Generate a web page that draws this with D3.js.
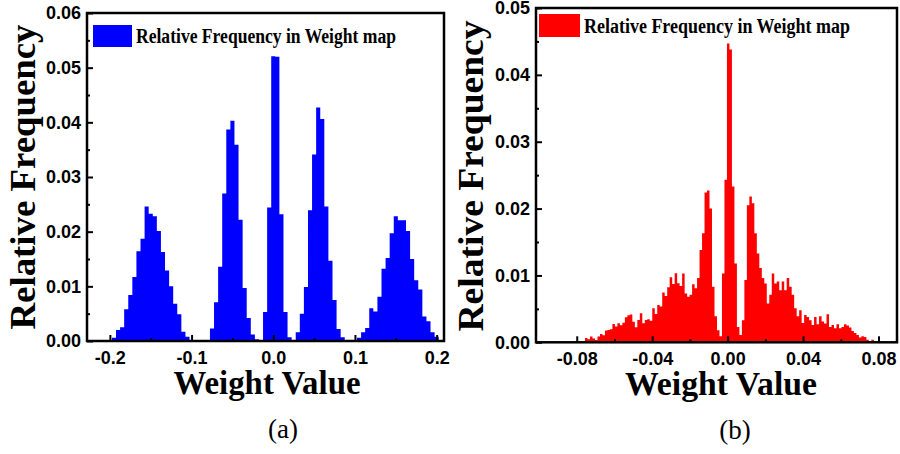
<!DOCTYPE html>
<html>
<head>
<meta charset="utf-8">
<script src="https://cdn.jsdelivr.net/npm/d3@7"></script>
<style>
body { margin: 0; background: #fff; }
</style>
</head>
<body>
<svg width="900" height="454"></svg>
<script>
"use strict";

// Data.

// (a): bins of 0.005, centred on -0.200 ... 0.200.
var LeftBinWidth = 0.005;
var LeftBinCenters = d3.range(-40, 41).map(function(i){ return i*LeftBinWidth; });
var LeftFreq = [
    0.0002, 0.0006, 0.0020, 0.0025, 0.0058, 0.0084, 0.0117, 0.0164, 0.0187, 0.0246,
    0.0233, 0.0228, 0.0201, 0.0163, 0.0129, 0.0100, 0.0068, 0.0049, 0.0017, 0.0008,
    0.0002, 0.0001, 0.0001, 0.0001, 0.0002, 0.0023, 0.0071, 0.0136, 0.0270, 0.0387,
    0.0403, 0.0359, 0.0222, 0.0097, 0.0042, 0.0012, 0.0003, 0.0000, 0.0053, 0.0244,
    0.0521, 0.0520, 0.0232, 0.0053, 0.0007, 0.0000, 0.0016, 0.0050, 0.0099, 0.0239,
    0.0341, 0.0427, 0.0406, 0.0246, 0.0147, 0.0075, 0.0022, 0.0007, 0.0002, 0.0001,
    0.0002, 0.0006, 0.0016, 0.0024, 0.0060, 0.0054, 0.0081, 0.0132, 0.0152, 0.0197,
    0.0228, 0.0221, 0.0221, 0.0201, 0.0150, 0.0111, 0.0094, 0.0045, 0.0036, 0.0016,
    0.0008
];

// (b): narrow bins starting at -0.0756.
var RightBinStart = -0.0756;
var RightBinWidth = 0.00132;
var RightFreq = [
    0.00065, 0.00045, 0.00085, 0.00055, 0.00035, 0.00085, 0.00125, 0.00105, 0.00175, 0.00185,
    0.00195, 0.00274, 0.00235, 0.00284, 0.00254, 0.00294, 0.00374, 0.00404, 0.00414, 0.00309,
    0.00225, 0.00334, 0.00434, 0.00284, 0.00334, 0.00344, 0.00324, 0.00509, 0.00424, 0.00559,
    0.00534, 0.00744, 0.00694, 0.00823, 0.00973, 0.00873, 0.01033, 0.00883, 0.00843,
    0.0103, 0.0073, 0.0068, 0.0071, 0.0087, 0.0081, 0.0096, 0.0138, 0.0163, 0.0224,
    0.0227, 0.0200, 0.0083, 0.0039, 0.0018, 0.0009, 0.0103, 0.0243, 0.0447, 0.0438,
    0.0233, 0.0118, 0.0023, 0.0011, 0.0033, 0.0093, 0.0205, 0.0218, 0.0208, 0.0163,
    0.0133, 0.0111, 0.0096, 0.0088, 0.0058, 0.0071, 0.0103, 0.0088,
    0.0091, 0.0078, 0.0091, 0.0078, 0.0096, 0.0083, 0.0071, 0.0051, 0.0039, 0.0048,
    0.0029, 0.0041, 0.0038, 0.0033, 0.0026, 0.0038, 0.0027, 0.0039, 0.0031, 0.0028,
    0.0042, 0.0023, 0.0026, 0.0021, 0.0027, 0.0021, 0.0023, 0.0027, 0.0025, 0.0022,
    0.0017, 0.0014, 0.0011, 0.0007, 0.0009, 0.0008, 0.0004, 0.0002, 0.0004, 0.0001
];

// Ticks.
var LeftXMajor = [-0.2, -0.1, 0.0, 0.1, 0.2];
var LeftXMinor = [-0.15, -0.05, 0.05, 0.15];
var LeftYMajor = [0, 0.01, 0.02, 0.03, 0.04, 0.05, 0.06];
var LeftYMinor = [0.005, 0.015, 0.025, 0.035, 0.045, 0.055];

var RightXMajor = [-0.08, -0.04, 0.0, 0.04, 0.08];
var RightXMinor = [-0.06, -0.02, 0.02, 0.06];
var RightYMajor = [0, 0.01, 0.02, 0.03, 0.04, 0.05];
var RightYMinor = [0.005, 0.015, 0.025, 0.035, 0.045];

var LegendText = "Relative Frequency in Weight map";
var XTitle = "Weight Value";
var YTitle = "Relative Frequency";

// Styles.

var svg = d3.select("svg");
var SansBold = "'Liberation Sans', Arial, sans-serif";
var Serif = "'Liberation Serif', 'Times New Roman', serif";
var FrameWidth = 2.5;

var leftBins = LeftBinCenters.map(function(c, i){
    return {x0: c - LeftBinWidth/2, x1: c + LeftBinWidth/2, v: LeftFreq[i]};
});
var rightBins = RightFreq.map(function(v, i){
    return {x0: RightBinStart + i*RightBinWidth, x1: RightBinStart + (i+1)*RightBinWidth, v: v};
});

var DrawPanel = function(p){
    var x = d3.scaleLinear().domain(p.xDomain).range([p.left, p.right]);
    var y = d3.scaleLinear().domain(p.yDomain).range([p.bottom, p.top]);
    var g = svg.append("g");

    // Bars, as one stepped area so neighbouring bins leave no seams.
    var last = p.bins[p.bins.length - 1];
    var steps = p.bins.map(function(d){ return {x: d.x0, v: d.v}; });
    steps.push({x: last.x1, v: 0});
    var area = d3.area()
        .curve(d3.curveStepAfter)
        .x(function(d){ return x(d.x); })
        .y0(y(0))
        .y1(function(d){ return y(d.v); });
    g.append("path")
        .datum(steps)
        .attr("d", area)
        .attr("fill", p.color);

    // Axes, ticks pointing inwards.
    var ax = g.append("g")
        .attr("transform", "translate(0," + p.bottom + ")")
        .call(d3.axisBottom(x).tickValues(p.xMajor).tickSize(-6).tickPadding(10)
            .tickFormat(function(d){ return d.toFixed(p.xDigits); }));
    var axm = g.append("g")
        .attr("transform", "translate(0," + p.bottom + ")")
        .call(d3.axisBottom(x).tickValues(p.xMinor).tickSize(-3).tickFormat(""));
    var ay = g.append("g")
        .attr("transform", "translate(" + p.left + ",0)")
        .call(d3.axisLeft(y).tickValues(p.yMajor).tickSize(-6).tickPadding(6)
            .tickFormat(function(d){ return d.toFixed(2); }));
    var aym = g.append("g")
        .attr("transform", "translate(" + p.left + ",0)")
        .call(d3.axisLeft(y).tickValues(p.yMinor).tickSize(-3).tickFormat(""));

    // Minor axes carry no labels.
    axm.selectAll("text").remove();
    aym.selectAll("text").remove();

    [ax, axm, ay, aym].forEach(function(a){
        a.select(".domain").remove();
        a.selectAll("line").attr("stroke", "#000").attr("stroke-width", 2);
        a.selectAll("text")
            .attr("fill", "#000")
            .attr("font-size", 18)
            .attr("font-weight", "bold")
            .attr("font-family", SansBold);
    });

    // Frame.
    g.append("rect")
        .attr("x", p.left)
        .attr("y", p.top)
        .attr("width", p.right - p.left)
        .attr("height", p.bottom - p.top)
        .attr("fill", "none")
        .attr("stroke", "#000")
        .attr("stroke-width", FrameWidth);

    // Legend.
    g.append("rect")
        .attr("x", p.legend[0]).attr("y", p.legend[1])
        .attr("width", p.legend[2]).attr("height", p.legend[3])
        .attr("fill", p.color);
    g.append("text")
        .attr("x", p.legendText[0]).attr("y", p.legendText[1])
        .attr("textLength", p.legendText[2])
        .attr("lengthAdjust", "spacingAndGlyphs")
        .attr("font-family", Serif)
        .attr("font-weight", "bold")
        .attr("font-size", 20)
        .text(LegendText);

    // Axis titles.
    g.append("text")
        .attr("x", p.xTitle[0]).attr("y", p.xTitle[1])
        .attr("text-anchor", "middle")
        .attr("textLength", p.xTitle[2])
        .attr("lengthAdjust", "spacingAndGlyphs")
        .attr("font-family", Serif)
        .attr("font-weight", "bold")
        .attr("font-size", 34)
        .text(XTitle);
    g.append("text")
        .attr("transform", "translate(" + p.yTitle[0] + "," + p.yTitle[1] + ") rotate(-90)")
        .attr("text-anchor", "middle")
        .attr("textLength", p.yTitle[2])
        .attr("lengthAdjust", "spacingAndGlyphs")
        .attr("font-family", Serif)
        .attr("font-weight", "bold")
        .attr("font-size", 35)
        .text(YTitle);

    // Caption.
    g.append("text")
        .attr("x", p.caption[0]).attr("y", p.caption[1])
        .attr("text-anchor", "middle")
        .attr("font-family", Serif)
        .attr("font-size", 27)
        .text(p.caption[2]);
};

DrawPanel({
    bins: leftBins, color: "#0000ff",
    left: 87, right: 444, top: 13, bottom: 341,
    xDomain: [-0.228, 0.209], yDomain: [0, 0.06],
    xMajor: LeftXMajor, xMinor: LeftXMinor, xDigits: 1,
    yMajor: LeftYMajor, yMinor: LeftYMinor,
    legend: [93, 25, 39, 22], legendText: [136, 43, 260],
    xTitle: [267, 394, 187], yTitle: [35, 177, 305],
    caption: [283, 438, "(a)"]
});

DrawPanel({
    bins: rightBins, color: "#ff0000",
    left: 536, right: 897, top: 8, bottom: 342.3,
    xDomain: [-0.1016, 0.0898], yDomain: [0, 0.05],
    xMajor: RightXMajor, xMinor: RightXMinor, xDigits: 2,
    yMajor: RightYMajor, yMinor: RightYMinor,
    legend: [539, 14, 41, 23], legendText: [584, 33, 266],
    xTitle: [721, 395, 192], yTitle: [483, 176, 311],
    caption: [735, 439, "(b)"]
});
</script>
</body>
</html>
